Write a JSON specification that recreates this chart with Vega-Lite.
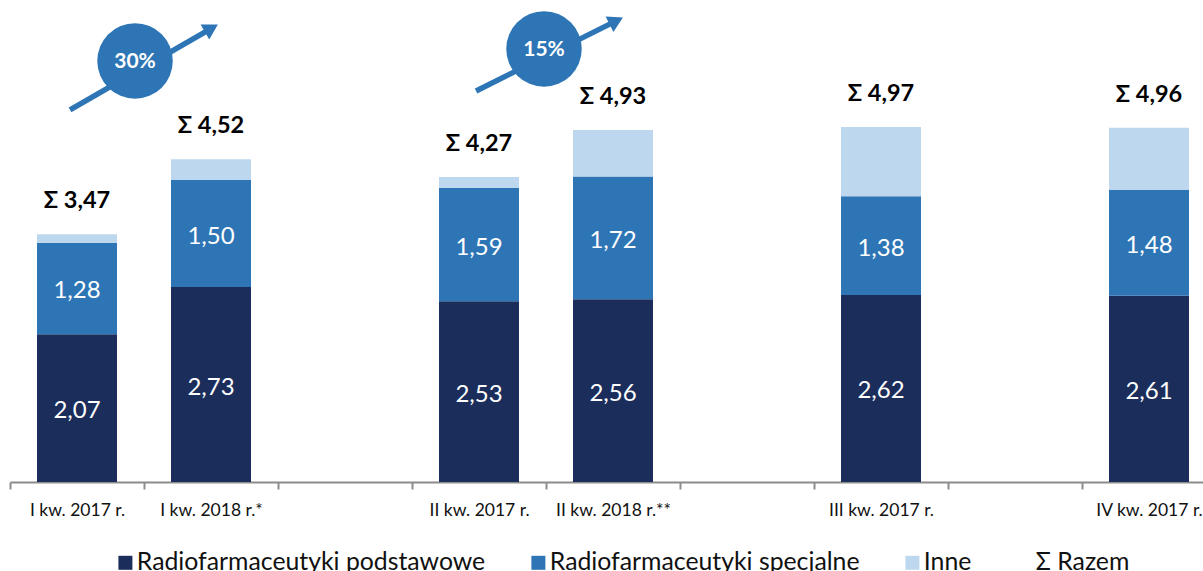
{
"$schema":"https://vega.github.io/schema/vega-lite/v6.json",
"width":1193,"height":482,
"autosize":{"type":"none"},
"padding":{"left":10,"top":0,"right":0,"bottom":89},
"background":"#ffffff",
"config":{"view":{"stroke":null},"font":"Lato"},
"datasets":{
"segmenty":[
{"okres":"I kw. 2017 r.","seria":"Radiofarmaceutyki podstawowe","wartosc":2.07},
{"okres":"I kw. 2017 r.","seria":"Radiofarmaceutyki specjalne","wartosc":1.28},
{"okres":"I kw. 2017 r.","seria":"Inne","wartosc":0.12},
{"okres":"I kw. 2018 r.*","seria":"Radiofarmaceutyki podstawowe","wartosc":2.73},
{"okres":"I kw. 2018 r.*","seria":"Radiofarmaceutyki specjalne","wartosc":1.50},
{"okres":"I kw. 2018 r.*","seria":"Inne","wartosc":0.29},
{"okres":"II kw. 2017 r.","seria":"Radiofarmaceutyki podstawowe","wartosc":2.53},
{"okres":"II kw. 2017 r.","seria":"Radiofarmaceutyki specjalne","wartosc":1.59},
{"okres":"II kw. 2017 r.","seria":"Inne","wartosc":0.15},
{"okres":"II kw. 2018 r.**","seria":"Radiofarmaceutyki podstawowe","wartosc":2.56},
{"okres":"II kw. 2018 r.**","seria":"Radiofarmaceutyki specjalne","wartosc":1.72},
{"okres":"II kw. 2018 r.**","seria":"Inne","wartosc":0.65},
{"okres":"III kw. 2017 r.","seria":"Radiofarmaceutyki podstawowe","wartosc":2.62},
{"okres":"III kw. 2017 r.","seria":"Radiofarmaceutyki specjalne","wartosc":1.38},
{"okres":"III kw. 2017 r.","seria":"Inne","wartosc":0.97},
{"okres":"IV kw. 2017 r.","seria":"Radiofarmaceutyki podstawowe","wartosc":2.61},
{"okres":"IV kw. 2017 r.","seria":"Radiofarmaceutyki specjalne","wartosc":1.48},
{"okres":"IV kw. 2017 r.","seria":"Inne","wartosc":0.87}
],
"sumy":[
{"okres":"I kw. 2017 r.","razem":3.47,"etykieta":"Σ 3,47"},
{"okres":"I kw. 2018 r.*","razem":4.52,"etykieta":"Σ 4,52"},
{"okres":"II kw. 2017 r.","razem":4.27,"etykieta":"Σ 4,27"},
{"okres":"II kw. 2018 r.**","razem":4.93,"etykieta":"Σ 4,93"},
{"okres":"III kw. 2017 r.","razem":4.97,"etykieta":"Σ 4,97"},
{"okres":"IV kw. 2017 r.","razem":4.96,"etykieta":"Σ 4,96"}
],
"strzalki":[
{"id":"a","u":0.448,"v":5.21},{"id":"a","u":1.503,"v":6.353},
{"id":"b","u":3.478,"v":5.476},{"id":"b","u":4.524,"v":6.458}
],
"groty":[
{"u":1.503,"v":6.353,"kat":60},
{"u":4.524,"v":6.458,"kat":63.4}
],
"kola":[
{"u":0.933,"v":5.896,"tekst":"30%"},
{"u":3.985,"v":6.064,"tekst":"15%"}
]
},
"resolve":{"scale":{"x":"independent"},"axis":{"x":"independent"}},
"layer":[
{
"data":{"name":"segmenty"},
"transform":[
{"calculate":"indexof(['Radiofarmaceutyki podstawowe','Radiofarmaceutyki specjalne','Inne'],datum.seria)","as":"kolejnosc"},
{"stack":"wartosc","groupby":["okres"],"sort":[{"field":"kolejnosc","order":"ascending"}],"as":["y0","y1"]}
],
"mark":{"type":"bar","width":80},
"encoding":{
"x":{"field":"okres","type":"nominal","title":null,
"scale":{"domain":["I kw. 2017 r.","I kw. 2018 r.*"," ","II kw. 2017 r.","II kw. 2018 r.**","  ","III kw. 2017 r.","   ","IV kw. 2017 r."],"range":[0,1206],"paddingInner":0,"paddingOuter":0},
"axis":{"labelAngle":0,"labelFontSize":17.5,"labelColor":"#111111","labelFont":"Lato","labelPadding":12,"labelOverlap":false,"labelLimit":200,"domainColor":"#8c8c8c","domainWidth":2,"tickColor":"#8c8c8c","tickWidth":2,"tickSize":7,"tickBand":"extent","grid":false,"ticks":true}},
"y":{"field":"y0","type":"quantitative","title":null,"scale":{"domain":[0,6.75],"nice":false,"zero":true},"axis":null},
"y2":{"field":"y1"},
"color":{"field":"seria","type":"nominal",
"scale":{"domain":["Radiofarmaceutyki podstawowe","Radiofarmaceutyki specjalne","Inne","Σ Razem"],"range":["#1b2d5b","#2e75b6","#bdd7ee","#ffffff"]},
"legend":{"title":null,"orient":"none","legendX":103,"legendY":550,"direction":"horizontal","columns":4,"symbolType":"square","symbolSize":196,"symbolStrokeWidth":0,"labelFontSize":24.8,"labelFont":"Lato","labelColor":"#111111","labelOffset":-1,"labelLimit":500,"columnPadding":40,"padding":0}}
}
},
{
"data":{"name":"segmenty"},
"transform":[
{"filter":"datum.seria !== 'Inne'"},
{"calculate":"indexof(['Radiofarmaceutyki podstawowe','Radiofarmaceutyki specjalne','Inne'],datum.seria)","as":"kolejnosc"},
{"stack":"wartosc","groupby":["okres"],"sort":[{"field":"kolejnosc","order":"ascending"}],"as":["y0","y1"]},
{"calculate":"(datum.y0+datum.y1)/2","as":"srodek"},
{"calculate":"replace(format(datum.wartosc,'.2f'),'.',',')","as":"opis"}
],
"mark":{"type":"text","color":"#ffffff","fontSize":24,"font":"Lato","baseline":"middle","dy":3},
"encoding":{
"x":{"field":"okres","type":"nominal","axis":null,"scale":{"domain":["I kw. 2017 r.","I kw. 2018 r.*"," ","II kw. 2017 r.","II kw. 2018 r.**","  ","III kw. 2017 r.","   ","IV kw. 2017 r."],"range":[0,1206],"paddingInner":0,"paddingOuter":0}},
"y":{"field":"srodek","type":"quantitative"},
"text":{"field":"opis"}
}
},
{
"data":{"name":"sumy"},
"mark":{"type":"text","color":"#000000","fontSize":23.5,"fontWeight":"bold","font":"Lato","baseline":"middle","dy":-33},
"encoding":{
"x":{"field":"okres","type":"nominal","axis":null,"scale":{"domain":["I kw. 2017 r.","I kw. 2018 r.*"," ","II kw. 2017 r.","II kw. 2018 r.**","  ","III kw. 2017 r.","   ","IV kw. 2017 r."],"range":[0,1206],"paddingInner":0,"paddingOuter":0}},
"y":{"field":"razem","type":"quantitative"},
"text":{"field":"etykieta"}
}
},
{
"data":{"name":"strzalki"},
"mark":{"type":"line","color":"#2e75b6","strokeWidth":5.5},
"encoding":{
"x":{"field":"u","type":"quantitative","axis":null,"scale":{"domain":[0,9],"range":[0,1206],"nice":false,"zero":false}},
"y":{"field":"v","type":"quantitative"},
"detail":{"field":"id"}
}
},
{
"data":{"name":"groty"},
"mark":{"type":"point","shape":"triangle-up","filled":true,"opacity":1,"color":"#2e75b6","size":300},
"encoding":{
"x":{"field":"u","type":"quantitative","axis":null,"scale":{"domain":[0,9],"range":[0,1206],"nice":false,"zero":false}},
"y":{"field":"v","type":"quantitative"},
"angle":{"field":"kat","type":"quantitative","scale":null}
}
},
{
"data":{"name":"kola"},
"mark":{"type":"point","shape":"circle","filled":true,"opacity":1,"color":"#2e75b6","size":5700},
"encoding":{
"x":{"field":"u","type":"quantitative","axis":null,"scale":{"domain":[0,9],"range":[0,1206],"nice":false,"zero":false}},
"y":{"field":"v","type":"quantitative"}
}
},
{
"data":{"name":"kola"},
"mark":{"type":"text","color":"#ffffff","fontSize":21,"fontWeight":"bold","font":"Lato","baseline":"middle","dy":1},
"encoding":{
"x":{"field":"u","type":"quantitative","axis":null,"scale":{"domain":[0,9],"range":[0,1206],"nice":false,"zero":false}},
"y":{"field":"v","type":"quantitative"},
"text":{"field":"tekst"}
}
}
]
}
